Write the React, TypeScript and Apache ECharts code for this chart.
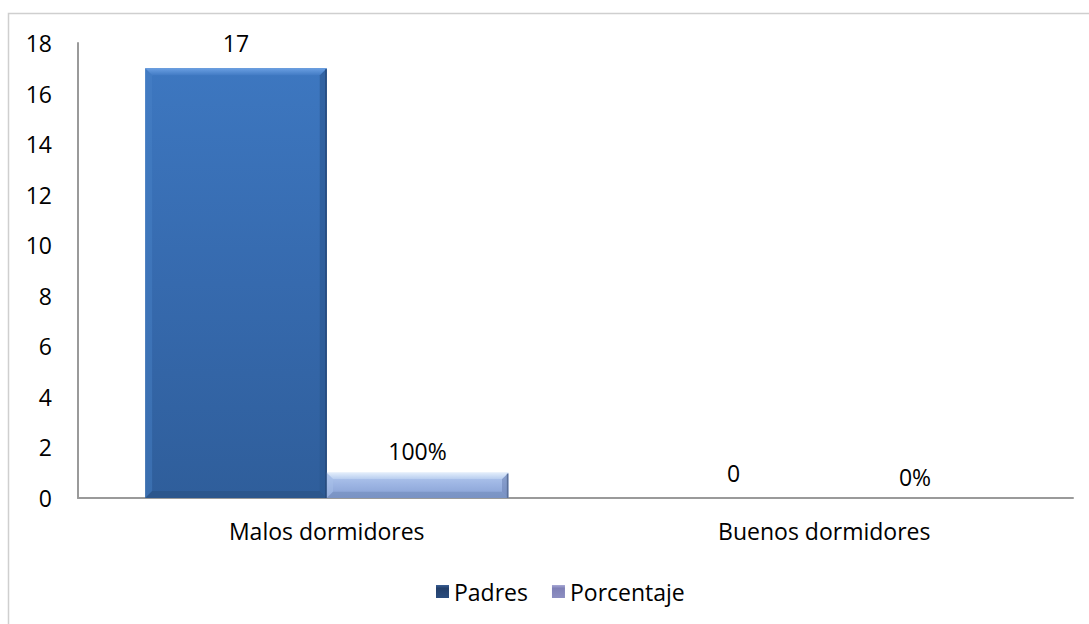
import React, { useEffect, useRef } from "react";
import * as echarts from "echarts";

const categories = ["Malos dormidores", "Buenos dormidores"];
const seriesNames = ["Padres", "Porcentaje"];
const padres = [17, 0];
const porcentaje = [1, 0];
const porcentajeLabels = ["100%", "0%"];
const yTicks = { min: 0, max: 18, interval: 2 };

const FONT = "'Open Sans', sans-serif";
const FS = 23;
const BAR_CAT_GAP = 0.27;

const bevelColors = [
  { topA: "#6a9fe2", topB: "#427bc4", left: "#4a82c8", right: "#2c5790", bottom: "#29507f", edge: "#26487a" },
  { topA: "#e2edfb", topB: "#b8cdef", left: "#a9c0e9", right: "#6f86b7", bottom: "#7088b8", edge: "#5a6f98" },
];

export default function App() {
  const ref = useRef<HTMLDivElement>(null);
  useEffect(() => {
    if (!ref.current) return;
    const chart = echarts.init(ref.current, null, { renderer: "svg" });
    const grad = (stops: [number, string][]) =>
      new echarts.graphic.LinearGradient(0, 0, 0, 1, stops.map(([offset, color]) => ({ offset, color })));

    const bevelData: number[][] = [];
    [padres, porcentaje].forEach((arr, s) =>
      arr.forEach((v, i) => bevelData.push([i, v, s]))
    );

    chart.setOption({
      animation: false,
      backgroundColor: "#ffffff",
      graphic: [
        {
          type: "rect",
          shape: { x: 8.5, y: 13.5, width: 1090, height: 620 },
          style: { fill: "none", stroke: "#cfcfcf", lineWidth: 1.5 },
          silent: true,
          z: -1,
        },
      ],
      grid: { left: 78, right: 16, top: 43, bottom: 126, containLabel: false },
      legend: {
        top: 575,
        left: 431,
        itemWidth: 13,
        itemHeight: 13,
        itemGap: 24,
        textStyle: { fontFamily: FONT, fontSize: FS, color: "#000" },
        data: [
          { name: seriesNames[0], icon: "rect", itemStyle: { color: grad([[0, "#3a5f95"], [0.25, "#233f6a"], [1, "#2a4c7e"]]) } },
          { name: seriesNames[1], icon: "rect", itemStyle: { color: grad([[0, "#a9a9d6"], [0.25, "#7f80b6"], [1, "#8d8fc2"]]) } },
        ],
      },
      xAxis: {
        type: "category",
        data: categories,
        axisLine: { show: true, lineStyle: { color: "#9a9a9a", width: 2 } },
        axisTick: { show: false },
        axisLabel: { fontFamily: FONT, fontSize: FS, color: "#000", margin: 21 },
        splitLine: { show: false },
      },
      yAxis: {
        type: "value",
        min: yTicks.min,
        max: yTicks.max,
        interval: yTicks.interval,
        axisLine: { show: true, lineStyle: { color: "#9a9a9a", width: 2 } },
        axisTick: { show: false },
        splitLine: { show: false },
        axisLabel: { fontFamily: FONT, fontSize: FS, color: "#000", margin: 26 },
      },
      series: [
        {
          name: seriesNames[0],
          type: "bar",
          data: padres,
          barGap: "0%",
          barCategoryGap: BAR_CAT_GAP * 100 + "%",
          itemStyle: {
            color: grad([
              [0, "#3d77c0"],
              [0.5, "#366aae"],
              [1, "#2f5e9b"],
            ]),
            borderWidth: 0,
          },
          label: {
            show: true,
            position: "top",
            distance: 14,
            fontFamily: FONT,
            fontSize: FS,
            color: "#000",
          },
        },
        {
          name: seriesNames[1],
          type: "bar",
          data: porcentaje,
          itemStyle: {
            color: grad([
              [0, "#b4caef"],
              [0.5, "#9bb3e2"],
              [1, "#869fd2"],
            ]),
            borderWidth: 0,
          },
          label: {
            show: true,
            position: "top",
            distance: 10,
            fontFamily: FONT,
            fontSize: FS,
            color: "#000",
            formatter: (p: any) => porcentajeLabels[p.dataIndex],
          },
        },
        {
          name: "bevel",
          type: "custom",
          silent: true,
          z: 3,
          encode: { x: 0, y: 1 },
          data: bevelData,
          renderItem: (_params: any, api: any) => {
            const cat = api.value(0);
            const v = api.value(1);
            const s = api.value(2);
            if (!(v > 0)) return null;
            const top = api.coord([cat, v]);
            const base = api.coord([cat, 0]);
            const cw = api.size([1, 0])[0];
            const w = (cw * (1 - BAR_CAT_GAP)) / 2;
            const x0 = top[0] - w + s * w;
            const x1 = x0 + w;
            const y0 = top[1];
            const y1 = base[1];
            const b = Math.min(7, (y1 - y0) / 4);
            const c = bevelColors[s];
            const topGrad = new echarts.graphic.LinearGradient(0, 0, 0, 1, [
              { offset: 0, color: c.topA },
              { offset: 1, color: c.topB },
            ]);
            return {
              type: "group",
              children: [
                { type: "polygon", shape: { points: [[x0, y0], [x0 + b, y0 + b], [x0 + b, y1 - b], [x0, y1]] }, style: { fill: c.left, opacity: 0.45 } },
                { type: "polygon", shape: { points: [[x1, y0], [x1, y1], [x1 - b, y1 - b], [x1 - b, y0 + b]] }, style: { fill: c.right, opacity: 0.6 } },
                { type: "polygon", shape: { points: [[x0, y1], [x0 + b, y1 - b], [x1 - b, y1 - b], [x1, y1]] }, style: { fill: c.bottom, opacity: 0.55 } },
                { type: "polygon", shape: { points: [[x0, y0], [x1, y0], [x1 - b, y0 + b], [x0 + b, y0 + b]] }, style: { fill: topGrad } },
                { type: "line", shape: { x1: x1 - 0.75, y1: y0 + 1, x2: x1 - 0.75, y2: y1 }, style: { stroke: c.edge, lineWidth: 1.5 } },
              ],
            };
          },
        },
      ],
    });
    return () => chart.dispose();
  }, []);
  return (
    <div
      ref={ref}
      style={{ position: "fixed", left: 0, top: 0, width: 1089, height: 624 }}
    />
  );
}
